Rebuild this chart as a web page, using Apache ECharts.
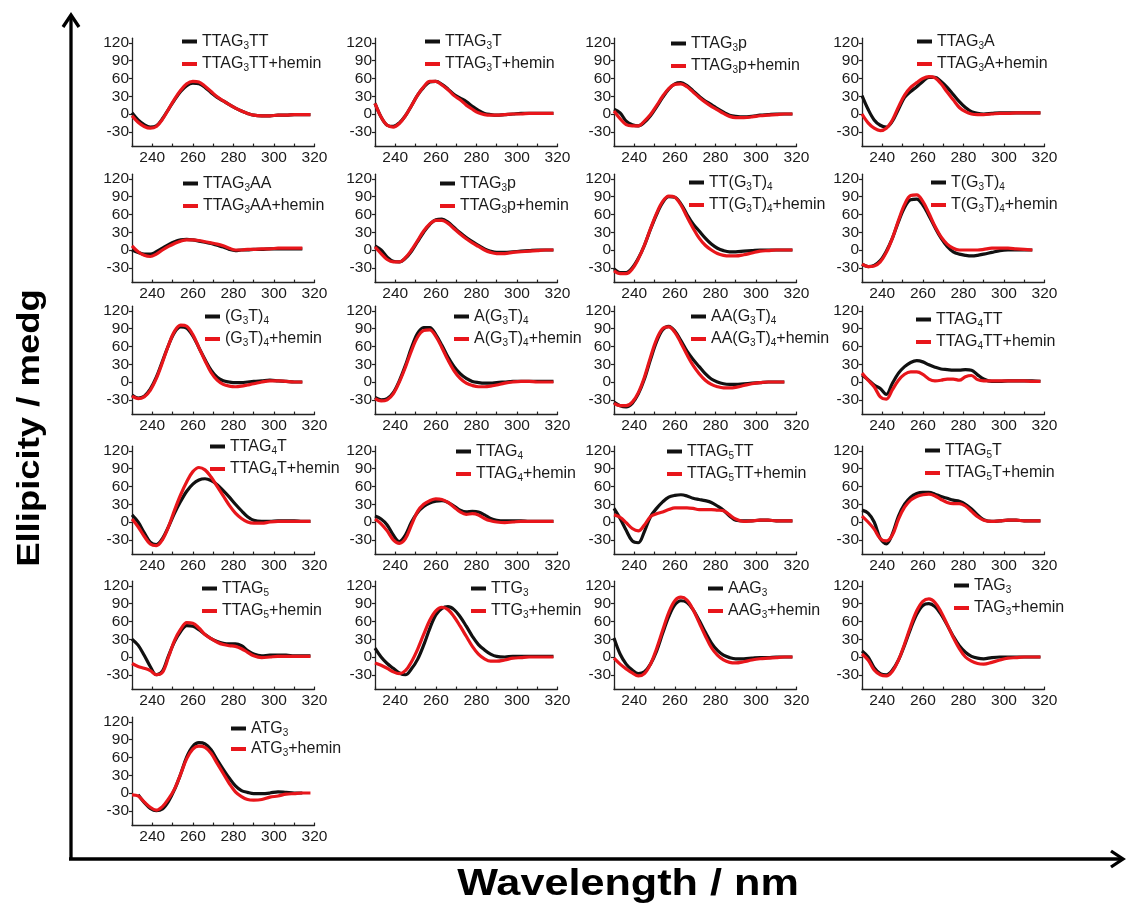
<!DOCTYPE html>
<html>
<head>
<meta charset="utf-8">
<title>CD spectra</title>
<script src="https://cdn.jsdelivr.net/npm/echarts@6/dist/echarts.min.js"></script>
<style>
  html, body { margin: 0; padding: 0; background: #ffffff; }
  #chart { width: 1126px; height: 905px; }
</style>
</head>
<body>
<div id="chart"></div>
<script>
// Wavelength grid (nm) shared by every spectrum
const wavelengths = [230, 233, 236, 239, 242, 245, 248, 251, 254, 257, 260, 263, 266, 269,
                     272, 275, 278, 281, 284, 287, 290, 294, 298, 302, 306, 310, 314, 318];

// Ellipticity (mdeg): DNA alone / DNA + hemin
const ttag3tt       = [2,-10,-18,-22,-20,-8,8,24,38,48,52,51,45,36,28,22,16,10,5,1,-2,-3,-3,-2,-2,-1,-1,-1];
const ttag3ttHemin  = [-3,-14,-21,-24,-21,-9,8,25,40,51,55,54,47,38,29,22,16,10,5,1,-2,-3,-3,-2,-2,-1,-1,-1];
const ttag3t        = [18,-5,-19,-21,-15,-3,14,32,45,54,55,50,42,33,27,21,13,6,1,-1,-2,-1,0,1,1,1,1,1];
const ttag3tHemin   = [18,-5,-19,-22,-16,-3,14,32,46,55,55,49,41,31,24,15,8,2,-1,-2,-2,-1,0,0,1,1,1,1];
const ttag3pA       = [8,2,-12,-18,-20,-14,-3,12,28,42,51,53,48,39,30,22,16,9,3,-2,-4,-5,-4,-2,-1,0,0,0];
const ttag3pAHemin  = [5,-8,-18,-20,-20,-12,-1,14,30,43,50,51,46,37,28,20,13,7,1,-4,-6,-6,-5,-3,-2,-1,0,0];
const ttag3a        = [31,8,-10,-19,-22,-12,8,28,38,46,55,62,62,55,45,33,21,11,4,1,0,1,2,2,2,2,2,2];
const ttag3aHemin   = [0,-15,-24,-28,-24,-10,12,32,45,53,60,63,61,51,37,24,11,4,0,-1,-1,0,1,1,2,2,2,2];
const ttag3aa       = [0,-4,-7,-7,-3,3,9,14,17,18,17,15,13,11,8,5,1,-1,0,0,1,1,2,2,2,2,2,null];
const ttag3aaHemin  = [7,-3,-9,-11,-7,0,6,11,15,17,17,16,14,12,10,7,3,0,0,1,1,2,2,3,3,3,3,null];
const ttag3pB       = [7,0,-12,-19,-20,-14,-2,14,30,43,51,52,47,38,29,21,14,8,2,-2,-4,-4,-3,-2,-1,0,0,0];
const ttag3pBHemin  = [5,-6,-16,-20,-20,-13,0,16,32,44,50,50,45,36,27,19,12,6,0,-4,-6,-6,-4,-3,-2,-1,0,0];
const tt_g3t4       = [-32,-38,-38,-30,-14,8,35,60,80,90,89,78,60,44,32,20,10,3,-1,-3,-3,-2,-1,0,0,0,0,0];
const tt_g3t4Hemin  = [-35,-40,-40,-32,-15,8,36,62,82,91,89,76,56,37,20,8,0,-6,-9,-10,-10,-8,-5,-2,-1,0,0,0];
const t_g3t4        = [-24,-28,-26,-18,-2,20,48,72,85,86,76,58,38,20,6,-3,-7,-9,-10,-9,-7,-4,-1,0,0,0,0,null];
const t_g3t4Hemin   = [-24,-28,-27,-20,-4,20,50,77,92,93,82,62,40,22,10,3,0,0,0,0,1,3,3,3,2,1,0,null];
const g3t4          = [-22,-27,-24,-12,8,35,62,84,93,91,78,58,38,20,8,2,0,-1,-1,0,1,2,3,2,1,0,0,null];
const g3t4Hemin     = [-24,-28,-25,-14,6,33,62,86,96,94,80,58,36,16,3,-4,-7,-8,-7,-5,-3,0,2,2,1,0,0,null];
const a_g3t4        = [-26,-30,-28,-18,2,28,58,82,92,92,80,62,42,26,14,6,1,-1,-2,-2,-1,0,1,1,1,1,1,1];
const a_g3t4Hemin   = [-28,-32,-30,-20,0,25,53,76,87,88,77,58,37,19,6,-2,-6,-8,-8,-7,-5,-2,0,1,1,0,0,0];
const aa_g3t4       = [-34,-40,-42,-36,-20,5,38,68,88,94,86,70,52,38,26,14,5,0,-3,-4,-4,-3,-2,-1,0,0,0,null];
const aa_g3t4Hemin  = [-36,-40,-40,-34,-18,8,42,72,90,93,84,66,46,28,14,3,-4,-8,-10,-10,-9,-6,-3,-1,0,0,0,null];
const ttag4tt       = [12,4,-5,-11,-21,-2,15,26,33,36,34,29,25,22,21,20,20,21,20,12,5,1,1,2,2,2,2,1];
const ttag4ttHemin  = [15,3,-8,-25,-29,-13,3,13,17,17,13,5,2,3,5,5,3,9,11,4,2,2,2,2,2,2,1,1];
const ttag4t        = [12,0,-18,-34,-38,-28,-8,15,35,52,64,71,73,70,63,53,42,30,19,9,3,1,1,2,2,2,1,1];
const ttag4tHemin   = [5,-8,-24,-37,-40,-30,-8,20,46,68,85,92,88,76,60,44,28,15,6,0,-2,-2,0,1,1,1,1,1];
const ttag4         = [10,5,-5,-22,-33,-22,0,16,26,32,35,36,33,27,20,17,18,17,12,6,3,2,2,2,1,1,1,1];
const ttag4Hemin    = [5,-3,-15,-30,-36,-28,-5,18,30,36,39,38,33,25,17,13,14,12,6,2,0,-1,0,1,1,1,1,1];
const ttag5tt       = [23,6,-14,-32,-35,-16,9,23,34,42,45,46,44,40,38,36,33,27,20,10,3,2,2,3,3,2,2,2];
const ttag5ttHemin  = [12,8,-1,-11,-15,-5,9,14,17,21,24,24,24,23,21,21,21,20,19,12,5,1,2,3,3,2,2,2];
const ttag5t        = [20,15,0,-28,-37,-20,10,30,42,48,50,50,47,43,40,37,35,30,22,12,4,1,2,3,3,2,2,2];
const ttag5tHemin   = [10,0,-12,-28,-32,-22,5,25,37,43,46,47,44,38,33,31,31,27,18,9,3,1,2,3,3,2,2,2];
const ttag5         = [30,20,3,-16,-30,-24,2,26,43,53,52,46,38,31,26,23,22,22,19,11,5,2,3,3,3,2,2,2];
const ttag5Hemin    = [-11,-16,-19,-23,-30,-26,0,28,47,58,57,49,38,31,25,21,19,18,14,8,2,-1,0,1,1,1,1,1];
const ttg3          = [15,0,-11,-19,-27,-30,-20,-4,20,48,71,82,85,80,68,52,35,21,12,5,1,0,1,1,1,1,1,1];
const ttg3Hemin     = [-10,-14,-19,-25,-28,-23,-8,13,38,62,78,84,80,68,52,35,18,5,-3,-7,-7,-5,-2,-1,0,0,0,0];
const aag3          = [32,5,-12,-22,-28,-25,-12,10,40,68,88,95,92,80,62,42,24,11,3,-1,-3,-3,-2,-1,-1,0,0,0];
const aag3Hemin     = [-2,-12,-20,-27,-32,-28,-12,14,45,75,95,101,96,80,58,36,16,3,-5,-9,-10,-8,-5,-3,-2,-1,0,0];
const tag3          = [10,0,-18,-28,-30,-22,-5,20,48,72,87,90,85,72,54,35,19,8,1,-2,-3,-1,0,0,0,0,0,0];
const tag3Hemin     = [5,-5,-22,-30,-32,-24,-5,22,52,78,94,98,92,76,55,33,14,0,-7,-11,-12,-9,-5,-2,-1,0,0,0];
const atg3          = [null,-3,-16,-26,-30,-27,-14,6,32,61,79,85,83,73,56,40,25,12,4,1,-1,-1,0,2,1,0,0,null];
const atg3Hemin     = [-3,-5,-15,-24,-29,-23,-10,7,32,58,74,79,77,67,50,33,16,2,-6,-11,-12,-11,-7,-5,-2,-1,0,0];

// Sequence names (digits are drawn as subscripts)
const sequences = ['TTAG3TT', 'TTAG3T', 'TTAG3p', 'TTAG3A', 'TTAG3AA', 'TTAG3p', 'TT(G3T)4', 'T(G3T)4',
                   '(G3T)4', 'A(G3T)4', 'AA(G3T)4', 'TTAG4TT', 'TTAG4T', 'TTAG4', 'TTAG5TT', 'TTAG5T',
                   'TTAG5', 'TTG3', 'AAG3', 'TAG3', 'ATG3'];
const freeSpectra = [ttag3tt, ttag3t, ttag3pA, ttag3a, ttag3aa, ttag3pB, tt_g3t4, t_g3t4, g3t4, a_g3t4,
                     aa_g3t4, ttag4tt, ttag4t, ttag4, ttag5tt, ttag5t, ttag5, ttg3, aag3, tag3, atg3];
const heminSpectra = [ttag3ttHemin, ttag3tHemin, ttag3pAHemin, ttag3aHemin, ttag3aaHemin, ttag3pBHemin,
                      tt_g3t4Hemin, t_g3t4Hemin, g3t4Hemin, a_g3t4Hemin, aa_g3t4Hemin, ttag4ttHemin,
                      ttag4tHemin, ttag4Hemin, ttag5ttHemin, ttag5tHemin, ttag5Hemin, ttg3Hemin,
                      aag3Hemin, tag3Hemin, atg3Hemin];
const yTicks = [-30, 0, 30, 60, 90, 120];

// Panel layout: column left edges, row zero-lines, legend anchors (icon left, icon centre y)
const colLeft = [132, 375, 614, 862];
const rowZero = [114, 250, 382, 522, 657, 793];
const legendAnchor = [
  [182, 43], [425, 43], [671, 45], [917, 43],
  [183, 185], [440, 185], [689, 184], [931, 184],
  [205, 318], [454, 318], [691, 318], [916, 321],
  [210, 448], [456, 453], [667, 453], [925, 452],
  [202, 590], [471, 590], [708, 590], [954, 587],
  [231, 730]
];

const Y_MIN = -55, Y_MAX = 128, PX_PER_UNIT = 0.5923;
const FONT = "'Liberation Sans', Arial, sans-serif";
const BLACK = '#111111', RED = '#e8161b';

function richName(name) {
  return name.split(/(\d)/).filter(Boolean)
    .map(p => /^\d$/.test(p) ? '{s|' + p + '}' : '{n|' + p + '}').join('');
}

const grids = [], xAxes = [], yAxes = [], series = [], legends = [];
sequences.forEach((seq, i) => {
  const col = i % 4, row = Math.floor(i / 4);
  const zero = rowZero[row];
  grids.push({
    left: colLeft[col], top: zero - Y_MAX * PX_PER_UNIT,
    width: 182.5, height: (Y_MAX - Y_MIN) * PX_PER_UNIT, containLabel: false
  });
  xAxes.push({
    type: 'value', gridIndex: i, min: 230, max: 320, interval: 10,
    axisLine: { onZero: false, lineStyle: { color: '#222', width: 1.3 } },
    axisTick: { inside: true, length: 3, lineStyle: { color: '#222', width: 1.2 } },
    splitLine: { show: false },
    axisLabel: {
      margin: 3, color: '#1a1a1a', fontSize: 15.5, fontFamily: FONT,
      formatter: v => (v % 20 === 0 && v >= 240) ? String(v) : ''
    }
  });
  yAxes.push({
    type: 'value', gridIndex: i, min: Y_MIN, max: Y_MAX,
    axisLine: { show: true, lineStyle: { color: '#222', width: 1.3 } },
    axisTick: { show: true, length: 3, customValues: yTicks, lineStyle: { color: '#222', width: 1.2 } },
    splitLine: { show: false },
    axisLabel: { margin: 3, color: '#1a1a1a', fontSize: 15.5, fontFamily: FONT, customValues: yTicks }
  });
  const mk = (name, vals, color) => ({
    type: 'line', name: name, xAxisIndex: i, yAxisIndex: i,
    data: wavelengths.map((w, k) => [w, vals[k]]),
    showSymbol: false, smooth: 0.35, connectNulls: false,
    color: color, lineStyle: { color: color, width: 3.2 }, itemStyle: { color: color },
    emphasis: { disabled: true }, animation: false, silent: true
  });
  series.push(mk(seq, freeSpectra[i], BLACK));
  series.push(mk(seq + '+hemin', heminSpectra[i], RED));
  const [lx, ly] = legendAnchor[i];
  legends.push({
    left: lx, top: ly - 9.5, orient: 'vertical', padding: 0,
    itemWidth: 15, itemHeight: 4, itemGap: i === 20 ? 3 : 5, icon: 'rect',
    selectedMode: false,
    data: [seq, seq + '+hemin'],
    formatter: richName,
    textStyle: {
      color: '#1a1a1a', fontFamily: FONT, padding: [0, 0, 0, 0],
      rich: {
        n: { fontSize: 16, lineHeight: 19, fontFamily: FONT, color: '#1a1a1a' },
        s: { fontSize: 10, lineHeight: 9, verticalAlign: 'bottom', fontFamily: FONT, color: '#1a1a1a' }
      }
    }
  });
});

const chart = echarts.init(document.getElementById('chart'), null, { renderer: 'canvas' });
chart.setOption({
  backgroundColor: '#ffffff',
  animation: false,
  grid: grids, xAxis: xAxes, yAxis: yAxes, series: series, legend: legends,
  graphic: [
    // Shared axis arrows
    { type: 'polyline', shape: { points: [[71, 860], [71, 15]] },
      style: { stroke: '#000', lineWidth: 3.3, fill: null } },
    { type: 'polyline', shape: { points: [[63, 27], [71, 15], [79, 27]] },
      style: { stroke: '#000', lineWidth: 3.3, fill: null, lineJoin: 'miter' } },
    { type: 'polyline', shape: { points: [[69, 859], [1123, 859]] },
      style: { stroke: '#000', lineWidth: 3.3, fill: null } },
    { type: 'polyline', shape: { points: [[1111, 851], [1123, 859], [1111, 867]] },
      style: { stroke: '#000', lineWidth: 3.3, fill: null, lineJoin: 'miter' } },
    // Shared axis titles
    { type: 'text', x: 30, y: 428, rotation: Math.PI / 2, scaleX: 1.14,
      style: { text: 'Ellipicity / medg', font: "bold 32px 'Liberation Sans', Arial, sans-serif",
               fill: '#000', align: 'center', verticalAlign: 'middle' } },
    { type: 'text', x: 628, y: 885, scaleX: 1.2,
      style: { text: 'Wavelength / nm', font: "bold 36px 'Liberation Sans', Arial, sans-serif",
               fill: '#000', align: 'center', verticalAlign: 'middle' } }
  ]
});
</script>
</body>
</html>
